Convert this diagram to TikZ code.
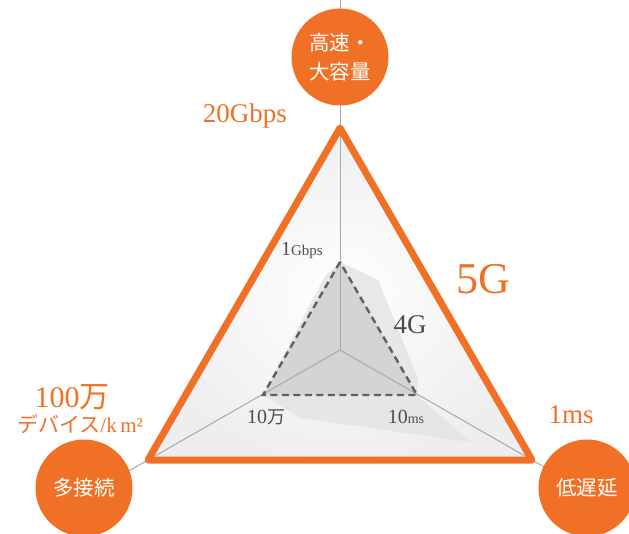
\documentclass[tikz,border=0pt]{standalone}
\usepackage{fontspec}
\setmainfont{Liberation Serif}
\newfontfamily\jp{Noto Sans CJK JP}
\usetikzlibrary{calc}
\definecolor{org}{HTML}{F07125}
\definecolor{txtgray}{HTML}{4D4D4D}
\definecolor{axisgray}{HTML}{A8A8AA}
\definecolor{midgray}{HTML}{D4D4D6}
\definecolor{lightgray}{HTML}{E2E2E4}
\tikzset{
  circ/.style={circle, fill=org, minimum size=97pt, inner sep=0pt, text=white, align=center, font=\jp\fontsize{20.5}{29}\selectfont},
  axisline/.style={draw=axisgray, line width=1pt},
  fourg/.style={draw=txtgray!90, line width=2.4pt, dash pattern=on 7pt off 4.5pt},
  fiveg/.style={draw=org, line width=7pt, line join=round},
  olabel/.style={text=org, inner sep=0pt},
  glabel/.style={text=txtgray, inner sep=0pt}
}
\begin{document}
\begin{tikzpicture}[x=1pt,y=-1pt]
\useasboundingbox (0,0) rectangle (629,534);
\coordinate (O) at (340,350);
\coordinate (A) at (340,128);
\coordinate (B) at (148,460);
\coordinate (C) at (532,460);
\coordinate (a) at (340,262);
\coordinate (b) at (263,395);
\coordinate (c) at (417,395);
\coordinate (Ax) at ($(O)!1.6!(A)$);
\coordinate (Bx) at ($(O)!1.3!(B)$);
\coordinate (Cx) at ($(O)!1.3!(C)$);
% background of the 5G triangle
\shade[inner color=white, outer color=gray!13] (A) -- (B) -- (C) -- cycle;
% light shadow region
\coordinate (s1) at (325,276);
\coordinate (s2) at (300,418);
\coordinate (s3) at (470,442);
\coordinate (s4) at (418,378);
\coordinate (s5) at (378,280);
\fill[lightgray, opacity=0.75] (a) -- (s1) -- (b) -- (s2) -- (s3) -- (c) -- (s4) -- (s5) -- cycle;
% 4G area
\fill[midgray] (a) -- (b) -- (c) -- cycle;
% axes
\draw[axisline] (O) -- (Ax);
\draw[axisline] (O) -- (Bx);
\draw[axisline] (O) -- (Cx);
% 4G triangle
\draw[fourg] (a) -- (b) -- (c) -- cycle;
% 5G triangle
\draw[fiveg] (A) -- (B) -- (C) -- cycle;
% circles
\node[circ] (top) at (340,57) {高速・\\大容量};
\node[circ] (left) at (84,488) {多接続};
\node[circ] (right) at (587,488) {低遅延};
% labels
\node[olabel, font=\fontsize{27}{30}\selectfont] (l20g) at (245,116) {20Gbps};
\node[olabel, font=\fontsize{44}{48}\selectfont] (l5g) at (483,279) {5G};
\node[olabel, font=\fontsize{30}{32}\selectfont] (l100) at (72,397) {100{\jp 万}};
\node[olabel, font=\fontsize{21}{24}\selectfont] (ldev) at (80,424) {{\jp デバイス}/k\,m²};
\node[olabel, font=\fontsize{27}{30}\selectfont] (l1ms) at (571,415) {1ms};
\node[glabel, font=\fontsize{27}{30}\selectfont] (l4g) at (410,325) {4G};
\node[glabel, anchor=base] (l1g) at (302,256) {{\fontsize{20}{22}\selectfont 1}{\fontsize{15}{18}\selectfont Gbps}};
\node[glabel, anchor=base] (l10m) at (266,423) {{\fontsize{20}{22}\selectfont 10}{\jp\fontsize{18}{22}\selectfont 万}};
\node[glabel, anchor=base] (l10ms) at (406,423) {{\fontsize{20}{22}\selectfont 10}{\fontsize{14}{18}\selectfont ms}};
\end{tikzpicture}
\end{document}
